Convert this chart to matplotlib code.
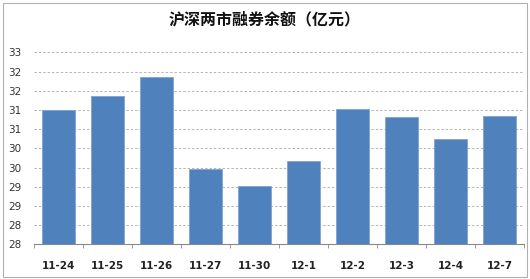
import matplotlib.pyplot as plt
import matplotlib.patches as patches
import numpy as np

plt.rcParams['font.family'] = ['Noto Sans CJK SC', 'DejaVu Sans']

# Dados
datas = ["11-24", "11-25", "11-26", "11-27", "11-30", "12-1", "12-2", "12-3", "12-4", "12-7"]
saldo = [31.50, 31.85, 32.37, 29.95, 29.53, 30.18, 31.53, 31.31, 30.73, 31.34]
y_ticks = [28, 28.5, 29, 29.5, 30, 30.5, 31, 31.5, 32, 32.5, 33]
y_labels = ["28", "28", "29", "29", "30", "30", "31", "31", "32", "32", "33"]

fig = plt.figure(figsize=(5.3, 2.79), dpi=100)
ax = fig.add_axes([34 / 530, 0.1244, 490 / 530, 0.688])

x = np.arange(len(datas))
ax.bar(x, saldo, width=0.66, color="#4F81BD", edgecolor="#7FA3D0", linewidth=0.6, zorder=3)

ax.set_ylim(28, 33)
ax.set_xlim(-0.5, len(datas) - 0.5)
ax.set_yticks(y_ticks)
ax.set_yticklabels(y_labels, fontsize=7.5, color="#333333", family="DejaVu Sans")
ax.tick_params(axis="y", length=0, pad=9)
ax.grid(axis="y", color="#B4B4B4", linestyle=(0, (2.5, 2)), linewidth=0.7, zorder=0)

ax.set_xticks(x)
ax.set_xticklabels(datas, fontsize=7.5, fontweight="bold", color="#222222", family="DejaVu Sans")
ax.set_xticks(np.arange(-0.5, len(datas)), minor=True)
ax.tick_params(axis="x", which="major", length=0, pad=12)
ax.tick_params(axis="x", which="minor", length=3, color="#888888", direction="out")

for lado in ["left", "right", "top"]:
    ax.spines[lado].set_visible(False)
ax.spines["bottom"].set_color("#888888")
ax.spines["bottom"].set_linewidth(0.8)

fig.text(0.5, 0.93, "沪深两市融券余额（亿元）", ha="center", va="center",
         fontsize=11.5, fontweight="bold", color="#111111")

# Borda externa
borda = patches.Rectangle((3 / 530, 2 / 279), 524 / 530, 274 / 279, transform=fig.transFigure,
                          fill=False, edgecolor="#B0B0B0", linewidth=0.8)
fig.patches.append(borda)

plt.savefig("out.png", dpi=100)
